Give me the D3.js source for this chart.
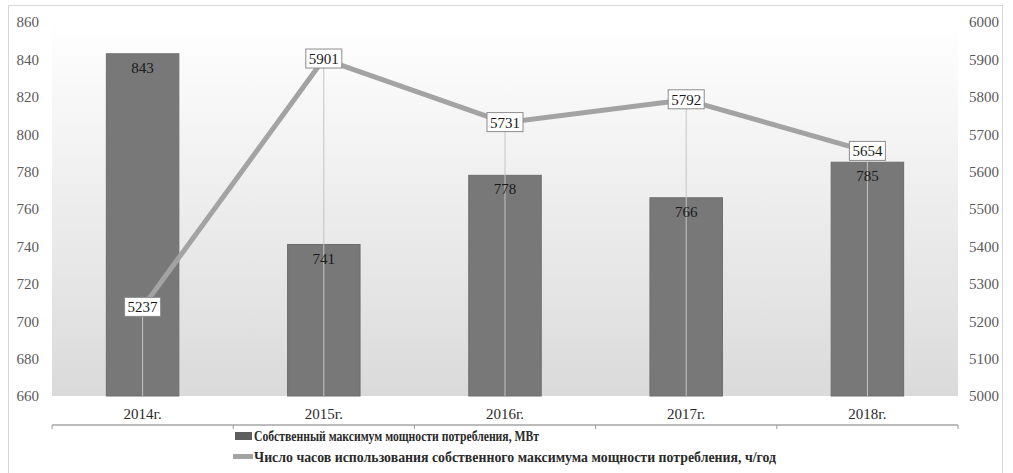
<!DOCTYPE html>
<html>
<head>
<meta charset="utf-8">
<script src="https://cdn.jsdelivr.net/npm/d3@7"></script>
<style>
  body { margin: 0; background: #fff; }
  svg text { font-family: 'Liberation Serif', 'DejaVu Serif', serif; }
</style>
</head>
<body>
<svg id="chart" width="1013" height="473"></svg>
<script>
const categories = ['2014г.', '2015г.', '2016г.', '2017г.', '2018г.'];
const power = [843, 741, 778, 766, 785];
const hours = [5237, 5901, 5731, 5792, 5654];
const leftTicks = [660, 680, 700, 720, 740, 760, 780, 800, 820, 840, 860];
const rightTicks = [5000, 5100, 5200, 5300, 5400, 5500, 5600, 5700, 5800, 5900, 6000];
const legendLabels = [
  'Собственный максимум  мощности потребления, МВт',
  'Число часов использования собственного максимума  мощности потребления, ч/год'
];

const serif = "'Liberation Serif', 'DejaVu Serif', serif";
const svg = d3.select('#chart').attr('font-family', serif);

const plotLeft = 52, plotRight = 958, plotTop = 22, plotBottom = 396;

// frame
svg.append('rect')
  .attr('x', 8.5).attr('y', 5.5)
  .attr('width', 994).attr('height', 490)
  .attr('fill', 'none')
  .attr('stroke', '#d6d6d6');

// plot background gradient
const defs = svg.append('defs');
const grad = defs.append('linearGradient')
  .attr('id', 'bg').attr('x1', 0).attr('y1', 0).attr('x2', 0).attr('y2', 1);
grad.append('stop').attr('offset', '0%').attr('stop-color', '#ffffff');
grad.append('stop').attr('offset', '100%').attr('stop-color', '#dadada');

svg.append('rect')
  .attr('x', plotLeft).attr('y', plotTop)
  .attr('width', plotRight - plotLeft).attr('height', plotBottom - plotTop)
  .attr('fill', 'url(#bg)');

const x = d3.scaleBand().domain(categories).range([plotLeft, plotRight]).paddingInner(0.6).paddingOuter(0.3);
const xc = d => x(d) + x.bandwidth() / 2;
const y = d3.scaleLinear().domain([660, 860]).range([plotBottom, plotTop]);
const y2 = d3.scaleLinear().domain([5000, 6000]).range([plotBottom, plotTop]);

// bars
svg.append('g').selectAll('rect')
  .data(power)
  .join('rect')
  .attr('x', (d, i) => x(categories[i]))
  .attr('y', d => y(d))
  .attr('width', x.bandwidth())
  .attr('height', d => plotBottom - y(d))
  .attr('fill', '#787878')
  .attr('stroke', '#6c6c6c')
  .attr('stroke-width', 1);

// drop lines
svg.append('g').selectAll('line')
  .data(hours)
  .join('line')
  .attr('x1', (d, i) => xc(categories[i]))
  .attr('x2', (d, i) => xc(categories[i]))
  .attr('y1', d => y2(d))
  .attr('y2', plotBottom)
  .attr('stroke', '#c4c4c4')
  .attr('stroke-width', 1);

// bar labels
svg.append('g').selectAll('text')
  .data(power)
  .join('text')
  .attr('x', (d, i) => xc(categories[i]))
  .attr('y', d => y(d) + 19)
  .attr('text-anchor', 'middle')
  .attr('font-size', 15)
  .attr('fill', '#1a1a1a')
  .text(d => d);

// line
const line = d3.line()
  .x((d, i) => xc(categories[i]))
  .y(d => y2(d));

svg.append('path')
  .datum(hours)
  .attr('d', line)
  .attr('fill', 'none')
  .attr('stroke', '#a3a3a3')
  .attr('stroke-width', 5)
  .attr('stroke-linejoin', 'round');

// line labels
const lbl = svg.append('g').selectAll('g')
  .data(hours)
  .join('g')
  .attr('transform', (d, i) => 'translate(' + xc(categories[i]) + ',' + y2(d) + ')');

lbl.append('rect')
  .attr('x', -18).attr('y', -10)
  .attr('width', 36).attr('height', 19)
  .attr('fill', '#fff')
  .attr('stroke', '#8c8c8c')
  .attr('stroke-width', 1);

lbl.append('text')
  .attr('text-anchor', 'middle')
  .attr('y', 5)
  .attr('font-size', 15)
  .attr('fill', '#1a1a1a')
  .text(d => d);

// left axis
const axL = svg.append('g')
  .attr('transform', 'translate(' + plotLeft + ',0)')
  .call(d3.axisLeft(y).tickValues(leftTicks).tickFormat(d3.format('d')).tickSize(0).tickPadding(13))
  .attr('font-family', serif)
  .attr('font-size', 15);
axL.select('.domain').remove();
axL.selectAll('text').attr('fill', '#5a5a5a');

// right axis
const axR = svg.append('g')
  .attr('transform', 'translate(' + plotRight + ',0)')
  .call(d3.axisRight(y2).tickValues(rightTicks).tickFormat(d3.format('d')).tickSize(0).tickPadding(11))
  .attr('font-family', serif)
  .attr('font-size', 15);
axR.select('.domain').remove();
axR.selectAll('text').attr('fill', '#5a5a5a');

// category labels
svg.append('g').selectAll('text')
  .data(categories)
  .join('text')
  .attr('x', d => xc(d))
  .attr('y', 419)
  .attr('text-anchor', 'middle')
  .attr('font-size', 15)
  .attr('fill', '#2a2a2a')
  .text(d => d);

// bottom axis line with separators
const axisY = 425;
svg.append('line')
  .attr('x1', plotLeft).attr('x2', plotRight)
  .attr('y1', axisY).attr('y2', axisY)
  .attr('stroke', '#7a7a7a').attr('stroke-width', 1.2);

const seps = categories.map(d => x(d) - x.step() * x.paddingInner() / 2).concat([plotRight]);
svg.append('g').selectAll('line')
  .data(seps)
  .join('line')
  .attr('x1', d => d).attr('x2', d => d)
  .attr('y1', axisY).attr('y2', axisY + 4)
  .attr('stroke', '#9a9a9a');

// legend
const lg = svg.append('g');
lg.append('rect')
  .attr('x', 235).attr('y', 432)
  .attr('width', 17).attr('height', 8)
  .attr('fill', '#5e5e5e');
lg.append('text')
  .attr('x', 254).attr('y', 441)
  .attr('font-size', 14)
  .attr('font-weight', 'bold')
  .attr('fill', '#2a2a2a')
  .attr('textLength', 285)
  .attr('lengthAdjust', 'spacingAndGlyphs')
  .text(legendLabels[0]);

lg.append('line')
  .attr('x1', 233).attr('x2', 253)
  .attr('y1', 456.5).attr('y2', 456.5)
  .attr('stroke', '#a3a3a3')
  .attr('stroke-width', 5);
lg.append('text')
  .attr('x', 254).attr('y', 462)
  .attr('font-size', 14)
  .attr('font-weight', 'bold')
  .attr('fill', '#2a2a2a')
  .attr('textLength', 522)
  .attr('lengthAdjust', 'spacingAndGlyphs')
  .text(legendLabels[1]);
</script>
</body>
</html>
